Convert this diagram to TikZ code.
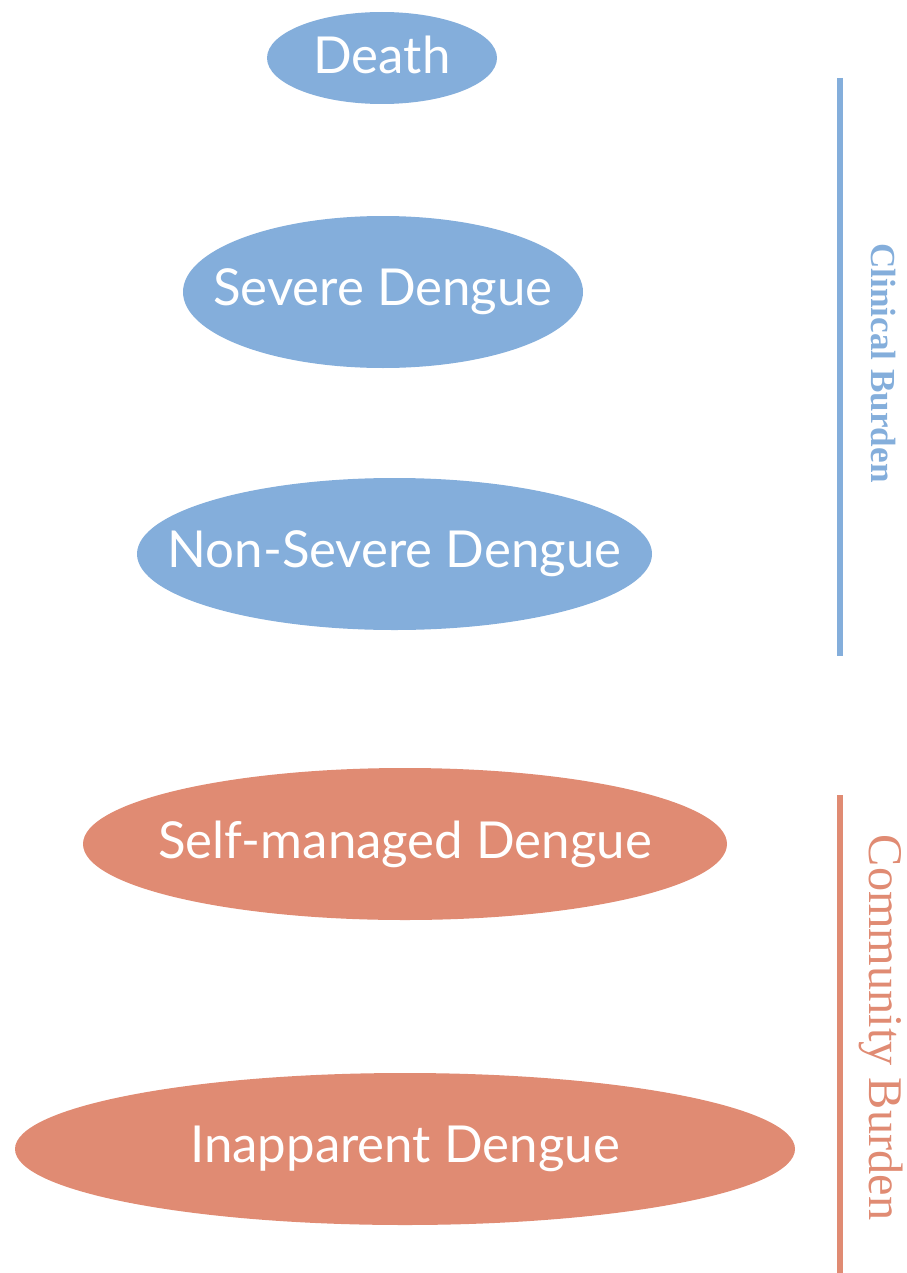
\documentclass[tikz,border=0pt]{standalone}
\usepackage{fontspec}
\usepackage{xcolor}
\setmainfont{Liberation Serif}
\newfontfamily\blobfont{Lato}
\usetikzlibrary{shapes.geometric}

\definecolor{clinblue}{HTML}{84AEDB}
\definecolor{commorange}{HTML}{E08B73}

\tikzset{
  blob/.style={ellipse,inner sep=0pt,minimum height=3.04cm},
  blobtext/.style={text=white,font=\blobfont\fontsize{29}{34}\selectfont},
  bar/.style={line width=3.6pt}
}

\begin{document}
\begin{tikzpicture}
  \useasboundingbox (0,0) rectangle (18.12,-25.46);

  \node[blob,fill=clinblue,minimum width=4.6cm,minimum height=1.84cm,
        label={[blobtext,yshift=2pt]center:Death}] (death) at (7.64,-1.16) {};
  \node[blob,fill=clinblue,minimum width=8cm,
        label={[blobtext]center:Severe Dengue}] (sev) at (7.66,-5.84) {};
  \node[blob,fill=clinblue,minimum width=10.3cm,
        label={[blobtext]center:Non-Severe Dengue}] (nonsev) at (7.89,-11.08) {};
  \node[blob,fill=commorange,minimum width=12.88cm,
        label={[blobtext]center:Self-managed Dengue}] (self) at (8.1,-16.88) {};
  \node[blob,fill=commorange,minimum width=15.6cm,
        label={[blobtext]center:Inapparent Dengue}] (inapp) at (8.1,-22.98) {};

  % burden brackets
  \draw[bar,clinblue] (16.8,-1.56) -- (16.8,-13.12);
  \draw[bar,commorange] (16.8,-15.9) -- (16.8,-25.46);
  \node[rotate=-90,inner sep=0pt,text=clinblue,font=\bfseries\fontsize{20}{24}\selectfont] (clin) at (17.66,-7.26) {Clinical Burden};
  \node[rotate=-90,inner sep=0pt,text=commorange,font=\fontsize{27.5}{32}\selectfont] (comm) at (17.62,-20.55) {Community Burden};
\end{tikzpicture}
\end{document}
